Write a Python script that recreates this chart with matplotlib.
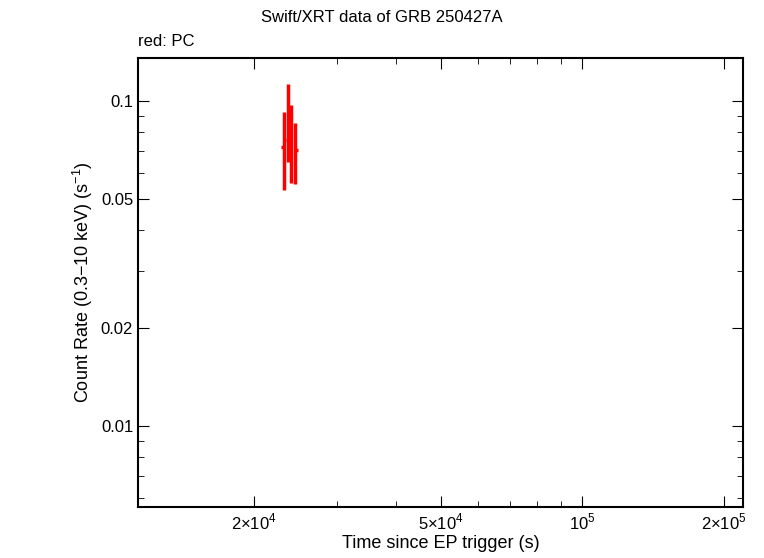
import matplotlib
matplotlib.use("Agg")
import matplotlib.pyplot as plt
import numpy as np
from matplotlib.ticker import FixedLocator, NullFormatter, LogLocator

plt.rcParams['font.family'] = ['Liberation Sans', 'DejaVu Sans']
plt.rcParams['mathtext.fontset'] = 'custom'
plt.rcParams['mathtext.rm'] = 'Liberation Sans'

# PC mode data
t = np.array([23150, 23550, 23950, 24400])
t_lo = np.array([300, 150, 150, 150])
t_hi = np.array([150, 150, 150, 400])
rate = np.array([0.0722, 0.0759, 0.0732, 0.0707])
rate_hi = np.array([0.0925, 0.1128, 0.097, 0.0856])
rate_lo = np.array([0.0532, 0.065, 0.056, 0.0555])

fig = plt.figure(figsize=(7.64, 5.58), dpi=100)
ax = fig.add_axes([138 / 764, 1 - 507 / 558, (743 - 138) / 764, (507 - 58) / 558])

ax.errorbar(t, rate, xerr=[t_lo, t_hi], yerr=[rate - rate_lo, rate_hi - rate],
            fmt='none', ecolor='red', elinewidth=2.5, capsize=0)

ax.set_xscale('log')
ax.set_yscale('log')
ax.set_xlim(1.13e4, 2.2e5)
ax.set_ylim(0.00563, 0.1356)

ax.xaxis.set_major_locator(FixedLocator([2e4, 5e4, 1e5, 2e5]))
ax.set_xticklabels([r'2$\times$10$^4$', r'5$\times$10$^4$', r'10$^5$', r'2$\times$10$^5$'])
ax.xaxis.set_minor_locator(LogLocator(base=10, subs=np.arange(1, 10)))
ax.xaxis.set_minor_formatter(NullFormatter())
ax.yaxis.set_major_locator(FixedLocator([0.01, 0.02, 0.05, 0.1]))
ax.set_yticklabels(['0.01', '0.02', '0.05', '0.1'])
ax.yaxis.set_minor_locator(LogLocator(base=10, subs=np.arange(1, 10)))
ax.yaxis.set_minor_formatter(NullFormatter())

ax.tick_params(which='both', direction='in', top=True, right=True, labelsize=12)
ax.tick_params(which='major', length=8)
ax.tick_params(which='minor', length=4)
for s in ax.spines.values():
    s.set_linewidth(1.5)

ax.set_xlabel('Time since EP trigger (s)', fontsize=13, labelpad=2)
ax.set_ylabel(r'Count Rate (0.3$-$10 keV) (s$^{-1}$)', fontsize=13)
fig.text(0.5, 1 - 18 / 558, 'Swift/XRT data of GRB 250427A', ha='center', va='center', fontsize=12)
fig.text(138 / 764, 1 - 42 / 558, 'red: PC', ha='left', va='center', fontsize=12)

fig.savefig('out.png', dpi=100)
